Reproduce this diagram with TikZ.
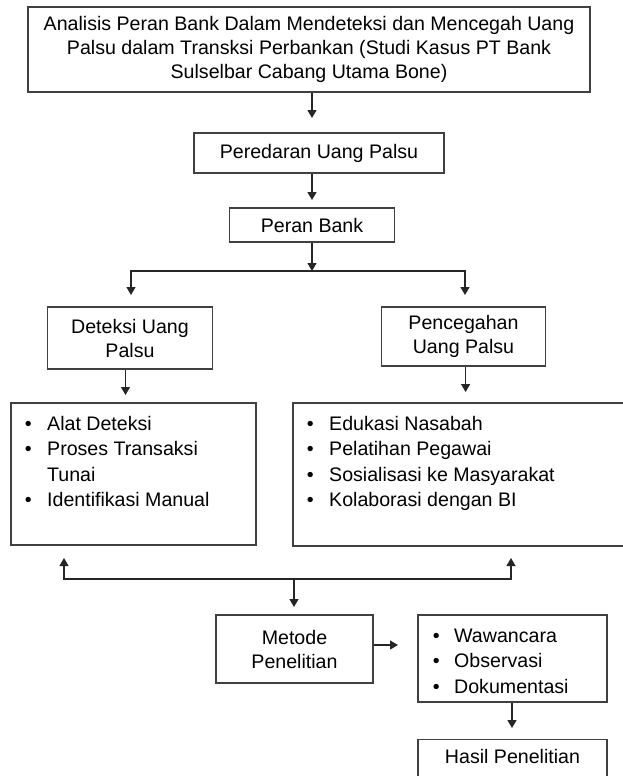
\documentclass[tikz,border=0pt]{standalone}
\usepackage{fontspec}
\setmainfont{Liberation Sans}
\usetikzlibrary{arrows.meta}
\begin{document}
\begin{tikzpicture}[x=1pt,y=-1pt,
  box/.style={draw=black!75, line width=1.4pt, rectangle, inner sep=0pt, align=center, font=\fontsize{19.6}{24}\selectfont},
  listtext/.style={inner sep=0pt, anchor=base west, font=\fontsize{19.6}{25.5}\selectfont},
  arr/.style={draw=black!85, line width=1.2pt, -{Triangle[length=8pt,width=9pt]}},
  ln/.style={draw=black!85, line width=1.2pt}]
\useasboundingbox (0,0) rectangle (623,776);
\clip (0,0) rectangle (623,776);
\fill[white] (0,0) rectangle (623,776);
% boxes
\node[box, minimum width=562pt, minimum height=85pt] (title) at (309,49.5)
  {Analisis Peran Bank Dalam Mendeteksi dan Mencegah Uang\\Palsu dalam Transksi Perbankan (Studi Kasus PT Bank\\Sulselbar Cabang Utama Bone)};
\node[box, minimum width=250pt, minimum height=40pt] (pered) at (319,153) {Peredaran Uang Palsu};
\node[box, minimum width=165pt, minimum height=34pt] (peran) at (312,225) {Peran Bank};
\node[box, minimum width=165pt, minimum height=62pt] (detek) at (130,338) {Deteksi Uang\\Palsu};
\node[box, minimum width=164pt, minimum height=59pt] (penceg) at (463.5,336.5) {Pencegahan\\Uang Palsu};
\node[box, minimum width=245pt, minimum height=142pt] (lbox) at (133.5,474) {};
\node[box, minimum width=332pt, minimum height=143pt] (rbox) at (459,474.5) {};
\node[listtext] (llist) at (24.6,430) {\begin{tabular}[t]{@{}l@{}l@{}}
  \makebox[22.4pt][l]{\textbullet} & Alat Deteksi\\
  \makebox[22.4pt][l]{\textbullet} & Proses Transaksi\\
   & Tunai\\
  \makebox[22.4pt][l]{\textbullet} & Identifikasi Manual
  \end{tabular}};
\node[listtext] (rlist) at (306.6,430) {\begin{tabular}[t]{@{}l@{}l@{}}
  \makebox[22.4pt][l]{\textbullet} & Edukasi Nasabah\\
  \makebox[22.4pt][l]{\textbullet} & Pelatihan Pegawai\\
  \makebox[22.4pt][l]{\textbullet} & Sosialisasi ke Masyarakat\\
  \makebox[22.4pt][l]{\textbullet} & Kolaborasi dengan BI
  \end{tabular}};
\node[box, minimum width=157pt, minimum height=68pt] (metode) at (294.5,649) {Metode\\Penelitian};
\node[box, minimum width=189pt, minimum height=87pt] (wawan) at (512.5,658.5) {};
\node[listtext] (wlist) at (432.6,642) {\begin{tabular}[t]{@{}l@{}l@{}}
  \makebox[21.4pt][l]{\textbullet} & Wawancara\\
  \makebox[21.4pt][l]{\textbullet} & Observasi\\
  \makebox[21.4pt][l]{\textbullet} & Dokumentasi
  \end{tabular}};
\node[box, minimum width=189pt, anchor=north, text height=24pt, text depth=22pt] (hasil) at (512.5,739) {Hasil Penelitian};
% coordinates
\coordinate (t1tip) at (312,118);
\coordinate (t2tip) at (312,200);
\coordinate (j1) at (312,271);
\coordinate (ltip1) at (131,295);
\coordinate (rtip1) at (465,295);
\coordinate (dtip) at (125.5,395);
\coordinate (ptip) at (465.6,392);
\coordinate (j2) at (294,579);
\coordinate (lup) at (64,558);
\coordinate (rup) at (511,558);
\coordinate (mtip) at (294,607);
\coordinate (etip) at (398,645);
\coordinate (wtip) at (512,728);
% connectors
\draw[arr] (t1tip |- title.south) -- (t1tip);
\draw[arr] (t2tip |- pered.south) -- (t2tip);
\draw[arr] (peran.south) -- (j1);
\draw[arr] (j1) -| (ltip1);
\draw[arr] (j1) -| (rtip1);
\draw[arr] (dtip |- detek.south) -- (dtip);
\draw[arr] (ptip |- penceg.south) -- (ptip);
\draw[arr] (j2) -| (lup);
\draw[arr] (j2) -| (rup);
\draw[arr] (j2) -- (mtip);
\draw[arr] (metode.east |- etip) -- (etip);
\draw[arr] (wtip |- wawan.south) -- (wtip);
\end{tikzpicture}
\end{document}
